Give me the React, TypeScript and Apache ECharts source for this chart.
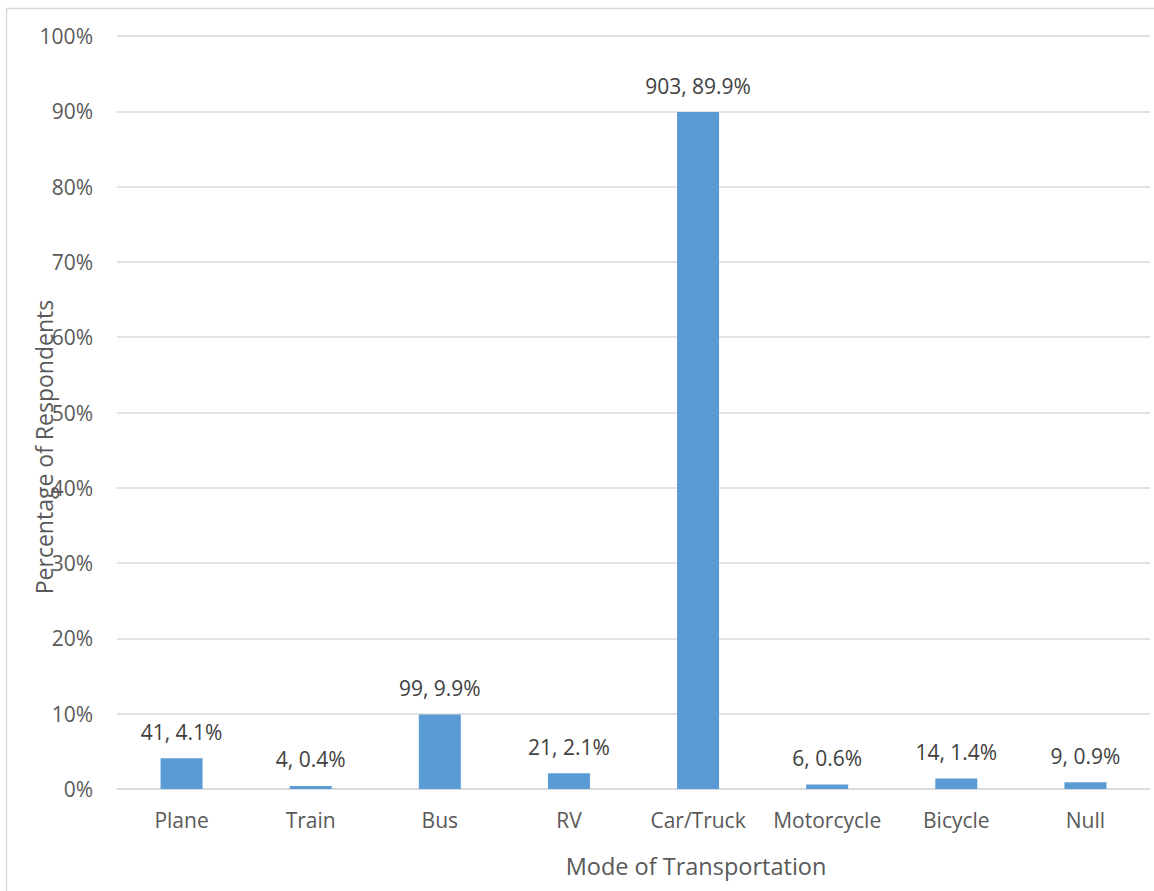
import React, { useEffect, useRef } from "react";
import * as echarts from "echarts";

// Mode of transportation used by survey respondents
const modes = ["Plane", "Train", "Bus", "RV", "Car/Truck", "Motorcycle", "Bicycle", "Null"];
const counts = [41, 4, 99, 21, 903, 6, 14, 9];
const percents = [4.1, 0.4, 9.9, 2.1, 89.9, 0.6, 1.4, 0.9];

const FONT = "'Open Sans', 'DejaVu Sans', sans-serif";
const TEXT = "#595959";

export default function App() {
  const ref = useRef<HTMLDivElement>(null);

  useEffect(() => {
    if (!ref.current) return;
    const chart = echarts.init(ref.current, undefined, { renderer: "svg" });
    chart.setOption({
      animation: false,
      backgroundColor: "#ffffff",
      textStyle: { fontFamily: FONT },
      grid: { left: 117, right: 4, top: 36, bottom: 102, containLabel: false },
      xAxis: {
        type: "category",
        data: modes,
        axisLine: { lineStyle: { color: "#d9d9d9", width: 1.5 } },
        axisTick: { show: false },
        axisLabel: { color: TEXT, fontSize: 21, margin: 20, interval: 0, fontFamily: FONT },
      },
      yAxis: {
        type: "value",
        min: 0,
        max: 100,
        interval: 10,
        axisLine: { show: false },
        axisTick: { show: false },
        splitLine: { lineStyle: { color: "#d9d9d9", width: 1.5 } },
        axisLabel: {
          color: TEXT,
          fontSize: 21,
          margin: 24,
          fontFamily: FONT,
          formatter: "{value}%",
        },
      },
      graphic: [
        {
          type: "rect",
          shape: { x: 6.5, y: 8.5, width: 1300, height: 1000 },
          style: { fill: "none", stroke: "#d9d9d9", lineWidth: 1.5 },
          silent: true,
        },
        {
          type: "text",
          x: 44,
          y: 447,
          rotation: Math.PI / 2,
          style: {
            text: "Percentage of Respondents",
            fill: TEXT,
            fontSize: 23,
            fontFamily: FONT,
            align: "center",
            verticalAlign: "middle",
          },
        },
        {
          type: "text",
          x: 696,
          y: 866,
          style: {
            text: "Mode of Transportation",
            fill: TEXT,
            fontSize: 23.5,
            fontFamily: FONT,
            align: "center",
            verticalAlign: "middle",
          },
        },
      ],
      series: [
        {
          type: "bar",
          data: percents,
          barWidth: 42,
          itemStyle: { color: "#5b9bd5" },
          label: {
            show: true,
            position: "top",
            distance: 16,
            color: "#404040",
            fontSize: 21,
            fontFamily: FONT,
            formatter: (p: any) => `${counts[p.dataIndex]}, ${percents[p.dataIndex]}%`,
          },
        },
      ],
    });
    return () => chart.dispose();
  }, []);

  return (
    <div
      ref={ref}
      style={{ position: "fixed", left: 0, top: 0, width: 1154, height: 891 }}
    />
  );
}
